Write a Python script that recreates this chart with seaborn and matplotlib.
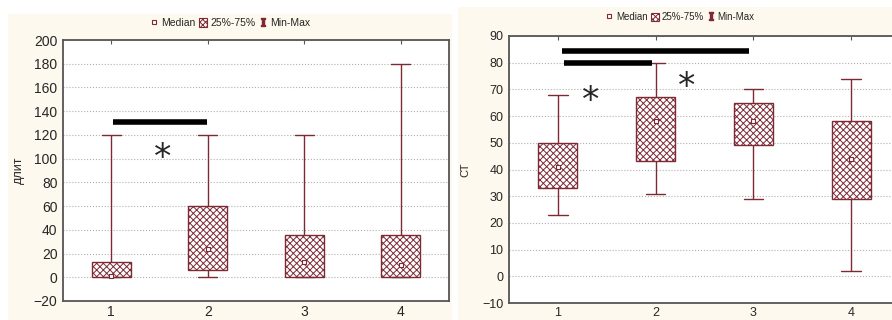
import pandas as pd
import seaborn as sns
from matplotlib import pyplot as plt
from matplotlib.patches import Rectangle, Patch
from matplotlib.lines import Line2D

'''
Два графика Median / 25%-75% / Min-Max по группам 1-4
'''

groups = ['1', '2', '3', '4']

# левый график: длит
dlit_min = [0, 0, 0, 0]
dlit_q1 = [0, 6, 0, 0]
dlit_med = [1, 24, 13, 10]
dlit_q3 = [13, 60, 36, 36]
dlit_max = [120, 120, 120, 180]

# правый график: СТ
st_min = [23, 31, 29, 2]
st_q1 = [33, 43, 49, 29]
st_med = [41, 58, 58, 44]
st_q3 = [50, 67, 65, 58]
st_max = [68, 80, 70, 74]

# значимые различия: (от, до, уровень) и звездочки (x, y базовой линии)
dlit_sig = [(0.02, 0.99, 131)]
dlit_stars = [(0.53, 92)]
st_sig = [(0.04, 1.96, 84.3), (0.06, 0.96, 79.8)]
st_stars = [(0.34, 62), (1.32, 67)]

MAROON = '#7d2a35'
CREAM = '#fdf9ee'


def make_df(mins, q1, med, q3, maxs):
    # 5 значений на группу -> квартили выходят ровно такие
    rows = []
    for g, a, b, c, d, e in zip(groups, mins, q1, med, q3, maxs):
        for v in (a, b, c, d, e):
            rows.append({'group': g, 'value': v})
    return pd.DataFrame(rows)


def plot_panel(fig, rect, df, med, sig, stars, ylim, yticks, ylabel, fs, legend_xy, lfs, right_spine):
    ax = fig.add_axes(rect)
    ax.set_facecolor('white')
    sns.boxplot(data=df, x='group', y='value', ax=ax, width=0.4, color='white',
                linecolor=MAROON, linewidth=1.0, whis=(0, 100), fliersize=0,
                boxprops={'hatch': 'xxxxx'}, medianprops={'visible': False})
    sns.scatterplot(x=groups, y=med, ax=ax, marker='s', s=10, color='white',
                    edgecolor=MAROON, linewidth=0.8, zorder=5, legend=False)
    for x1, x2, y in sig:
        ax.plot([x1, x2], [y, y], color='black', lw=4, solid_capstyle='butt', zorder=6)
    for x, y in stars:
        ax.text(x, y, '*', fontsize=25, ha='center', va='baseline', family='DejaVu Sans', zorder=6)
    ax.set_xlim(-0.5, 3.5)
    ax.set_ylim(*ylim)
    ax.set_yticks(yticks)
    ax.set_xlabel('')
    ax.set_ylabel(ylabel, fontsize=fs - 1)
    ax.yaxis.set_label_coords(-0.1, 0.5)
    ax.set_axisbelow(True)
    ax.yaxis.grid(True, linestyle=':', color='#b0b0b0', lw=0.8)
    ax.xaxis.grid(False)
    ax.tick_params(axis='both', direction='in', length=3, labelsize=fs, color='#555555', pad=4)
    ax.tick_params(axis='x', top=True, pad=3)
    for s in ['left', 'bottom', 'top', 'right']:
        ax.spines[s].set_color('#555555')
        ax.spines[s].set_linewidth(1.3)
    ax.spines['right'].set_visible(right_spine)

    handles = [Line2D([], [], marker='s', ls='', mfc='white', mec=MAROON, ms=3.5, mew=0.8),
               Patch(facecolor='white', edgecolor=MAROON, hatch='xxxxxx', lw=0.8),
               Line2D([], [], marker=r'$\mathtt{I}$', ls='', color=MAROON, ms=6)]
    fig.legend(handles, ['Median', '25%-75%', 'Min-Max'], loc='center',
               bbox_to_anchor=legend_xy, ncol=3, frameon=False, fontsize=lfs,
               handlelength=0.8, handleheight=0.9, handletextpad=0.3, columnspacing=0.3,
               borderaxespad=0)
    return ax


def plot_graph():
    sns.set_style('white')
    plt.rcParams['font.family'] = ['Liberation Sans', 'DejaVu Sans']
    plt.rcParams['hatch.linewidth'] = 0.7
    W, H = 892, 320
    fig = plt.figure(figsize=(W / 100, H / 100), dpi=100)
    fig.patch.set_facecolor('white')
    fig.patches.append(Rectangle((8 / W, 0), (452 - 8) / W, 1 - 14 / H, transform=fig.transFigure,
                                 facecolor=CREAM, edgecolor='none', zorder=-10))
    fig.patches.append(Rectangle((458 / W, 0), (W - 458) / W, 1 - 7 / H, transform=fig.transFigure,
                                 facecolor=CREAM, edgecolor='none', zorder=-10))

    df1 = make_df(dlit_min, dlit_q1, dlit_med, dlit_q3, dlit_max)
    plot_panel(fig, [63 / W, 1 - 301 / H, 386 / W, 261 / H], df1, dlit_med, dlit_sig, dlit_stars,
               (-20, 200), range(-20, 201, 20), 'длит', 10, (230 / W, 1 - 23 / H), 7.5, True)

    df2 = make_df(st_min, st_q1, st_med, st_q3, st_max)
    plot_panel(fig, [509 / W, 1 - 303 / H, 391 / W, 267 / H], df2, st_med, st_sig, st_stars,
               (-10, 90), range(-10, 91, 10), 'СТ', 9, (680 / W, 1 - 17 / H), 7, False)

    plt.savefig('out.png', dpi=100)
    return


if __name__ == '__main__':
    plot_graph()
